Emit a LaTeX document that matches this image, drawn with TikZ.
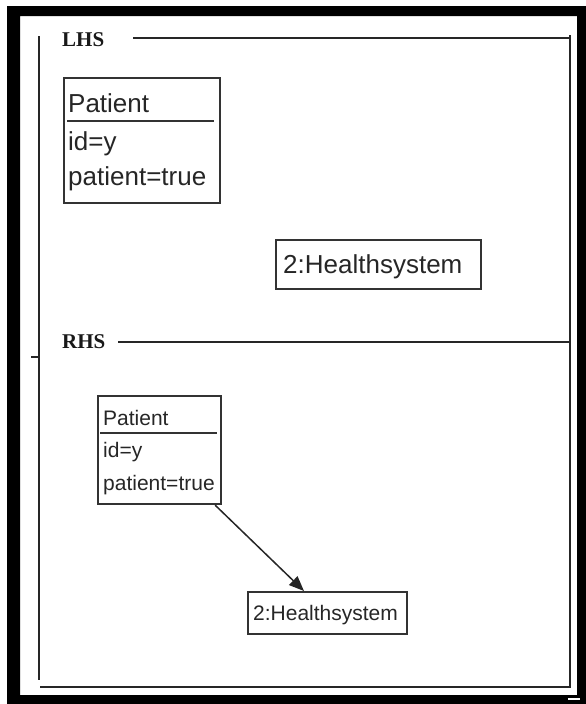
\documentclass[tikz,border=0pt]{standalone}
\usepackage{fontspec}
\setmainfont{Liberation Sans}
\newfontfamily\titlefont{Liberation Serif}
\usetikzlibrary{arrows.meta,calc}
\begin{document}
\begin{tikzpicture}[x=1pt,y=-1pt,
  frameline/.style={line width=1.5pt, draw=black!85},
  objbox/.style={draw=black!80, line width=2.2pt, inner sep=0pt, anchor=north west},
  sepline/.style={draw=black!80, line width=2.2pt},
  bigtxt/.style={font=\fontsize{26}{30}\selectfont, anchor=base west, inner sep=0pt, text=black!85},
  smalltxt/.style={font=\fontsize{21}{25}\selectfont, anchor=base west, inner sep=0pt, text=black!85},
  paneltitle/.style={font=\titlefont\bfseries\fontsize{21}{24}\selectfont, inner sep=0pt, anchor=west, text=black!90},
  link/.style={draw=black!85, line width=1.5pt, -{Triangle[length=15pt,width=12pt]}},
]
\useasboundingbox (0,0) rectangle (586,704);

% heavy outer border
\fill[black, even odd rule] (7,6) rectangle (586,704) (20,16) rectangle (577,695);
\draw[white, line width=1.5pt] (568,699) -- (580,699);

% panel titles
\node[paneltitle] (lhs) at (62,40) {LHS};
\node[paneltitle] (rhs) at (62,342) {RHS};

% panel frame
\draw[frameline] (133,38) -- (570,38);
\draw[frameline] (118,342) -- (570,342);
\draw[frameline] (570,35) -- (570,688);
\draw[frameline] (39,36) -- (39,680);
\draw[frameline] (40,687) -- (570,687);
\draw[frameline] (31,357) -- (38,357);

% left-hand side objects
\node[objbox, minimum width=156pt, minimum height=125pt] (p1) at (63,77) {};
\draw[sepline] (67,121) -- (214,121);
\node[bigtxt] (p1name) at (68,112) {Patient};
\node[bigtxt] (p1id) at (68,150) {id=y};
\node[bigtxt] (p1flag) at (68,185) {patient=true};

\node[objbox, minimum width=205pt, minimum height=49pt] (h1) at (275,239) {};
\node[bigtxt] (h1name) at (283,273) {2:Healthsystem};

% right-hand side objects
\node[objbox, minimum width=123pt, minimum height=108pt] (p2) at (97,395) {};
\draw[sepline] (100,433) -- (217,433);
\node[smalltxt] (p2name) at (103,425) {Patient};
\node[smalltxt] (p2id) at (103,457) {id=y};
\node[smalltxt] (p2flag) at (103,490) {patient=true};

\node[objbox, minimum width=159pt, minimum height=42pt] (h2) at (247,591) {};
\node[smalltxt] (h2name) at (253,620) {2:Healthsystem};

% link between the right-hand side objects
\draw[link] ($(p2.south east)+(-7,0)$) -- ($(h2.north west)+(57,0)$);
\end{tikzpicture}
\end{document}
